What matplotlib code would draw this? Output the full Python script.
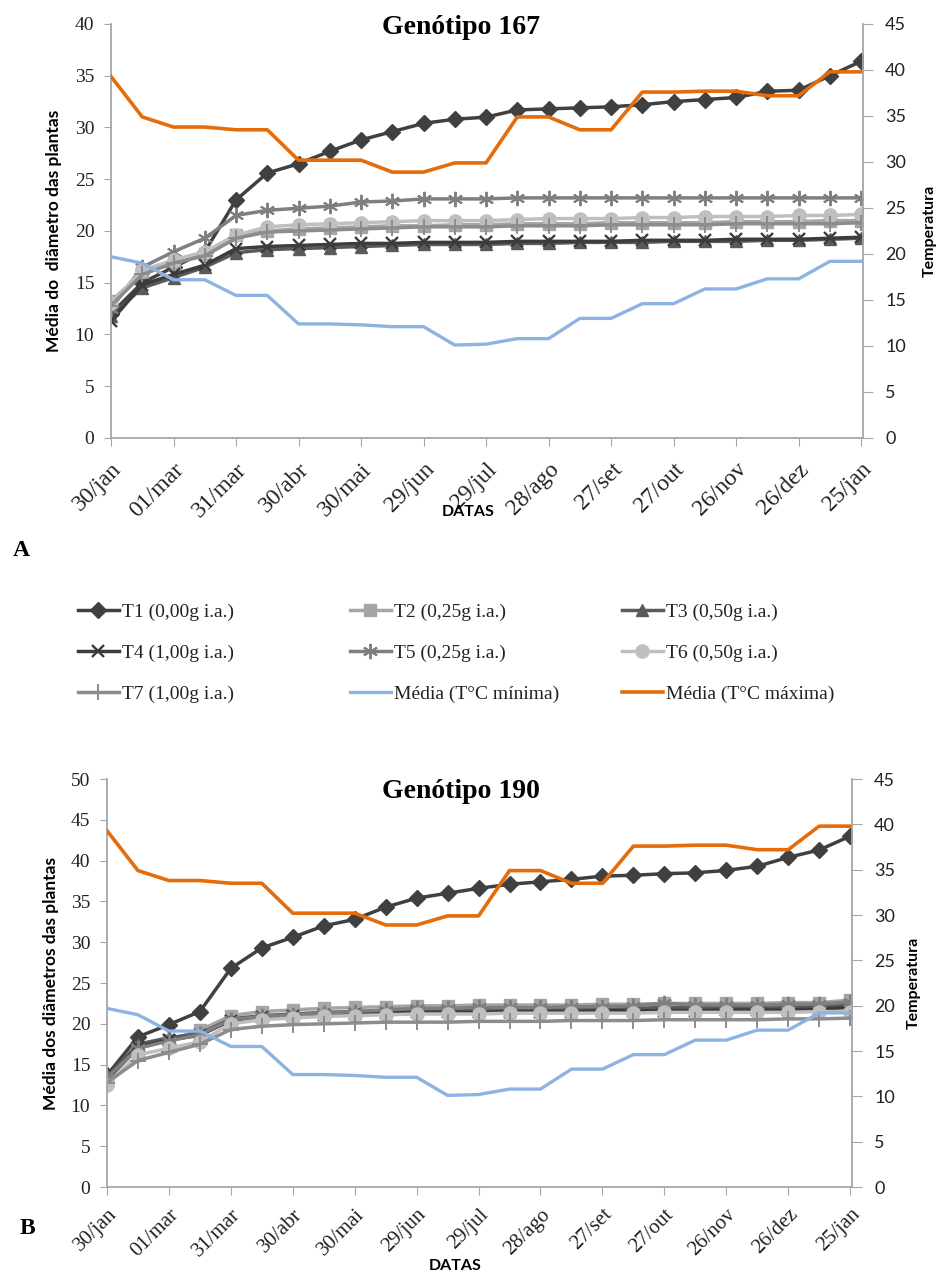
import matplotlib.pyplot as plt
import numpy as np

plt.rcParams['font.family'] = ['Liberation Serif', 'DejaVu Serif']

# dates shown on the x axis (a reading every 15 days, every other one labelled)
rotulos = ['30/jan', '01/mar', '31/mar', '30/abr', '30/mai', '29/jun', '29/jul',
           '28/ago', '27/set', '27/out', '26/nov', '26/dez', '25/jan']

# mean max / min temperature (right axis), same period for both genotypes
tmax = [39.3, 34.9, 33.8, 33.8, 33.5, 33.5, 30.2, 30.2, 30.2, 28.9, 28.9, 29.9, 29.9,
        34.9, 34.9, 33.5, 33.5, 37.6, 37.6, 37.7, 37.7, 37.2, 37.2, 39.8, 39.8]
tmin = [19.7, 19.0, 17.2, 17.2, 15.5, 15.5, 12.4, 12.4, 12.3, 12.1, 12.1, 10.1, 10.2,
        10.8, 10.8, 13.0, 13.0, 14.6, 14.6, 16.2, 16.2, 17.3, 17.3, 19.2, 19.2]

# Genotipo 167 - mean plant diameter per treatment
g167_t1 = [12.0, 15.0, 16.5, 18.0, 23.0, 25.6, 26.5, 27.7, 28.8, 29.6, 30.4, 30.8, 31.0,
           31.7, 31.8, 31.9, 32.0, 32.2, 32.5, 32.7, 32.9, 33.5, 33.6, 35.0, 36.4]
g167_t2 = [13.2, 16.0, 16.8, 17.8, 19.6, 20.0, 20.2, 20.3, 20.4, 20.5, 20.5, 20.6, 20.6,
           20.7, 20.7, 20.7, 20.8, 20.8, 20.8, 20.8, 20.9, 20.9, 20.9, 21.0, 21.0]
g167_t3 = [11.8, 14.5, 15.5, 16.5, 17.9, 18.2, 18.3, 18.4, 18.5, 18.6, 18.7, 18.7, 18.7,
           18.8, 18.8, 18.9, 18.9, 18.9, 19.0, 19.0, 19.0, 19.1, 19.1, 19.2, 19.3]
g167_t4 = [11.3, 14.8, 15.8, 16.7, 18.3, 18.5, 18.6, 18.7, 18.8, 18.8, 18.9, 18.9, 18.9,
           19.0, 19.0, 19.0, 19.0, 19.1, 19.1, 19.1, 19.2, 19.2, 19.2, 19.3, 19.4]
g167_t5 = [12.5, 16.5, 18.0, 19.3, 21.5, 22.0, 22.2, 22.4, 22.8, 22.9, 23.1, 23.1, 23.1,
           23.2, 23.2, 23.2, 23.2, 23.2, 23.2, 23.2, 23.2, 23.2, 23.2, 23.2, 23.2]
g167_t6 = [13.0, 16.2, 17.2, 18.0, 19.6, 20.4, 20.6, 20.7, 20.8, 20.9, 21.0, 21.0, 21.0,
           21.1, 21.2, 21.2, 21.2, 21.3, 21.3, 21.4, 21.4, 21.4, 21.5, 21.5, 21.6]
g167_t7 = [12.8, 15.8, 16.9, 17.6, 19.3, 19.9, 20.0, 20.1, 20.2, 20.3, 20.4, 20.4, 20.4,
           20.5, 20.5, 20.5, 20.6, 20.6, 20.6, 20.6, 20.7, 20.7, 20.7, 20.7, 20.8]

# Genotipo 190
g190_t1 = [13.7, 18.4, 19.9, 21.5, 26.8, 29.3, 30.6, 32.0, 32.8, 34.3, 35.4, 36.0, 36.6,
           37.1, 37.4, 37.7, 38.1, 38.2, 38.4, 38.5, 38.8, 39.3, 40.4, 41.3, 43.0]
g190_t2 = [13.0, 17.0, 18.0, 19.2, 21.0, 21.5, 21.7, 21.9, 22.0, 22.1, 22.2, 22.2, 22.3,
           22.3, 22.3, 22.3, 22.4, 22.4, 22.5, 22.5, 22.5, 22.5, 22.6, 22.6, 22.9]
g190_t3 = [13.5, 17.5, 18.3, 18.8, 20.6, 21.0, 21.2, 21.4, 21.5, 21.6, 21.7, 21.7, 21.8,
           21.8, 21.8, 21.9, 21.9, 21.9, 22.0, 22.0, 22.0, 22.0, 22.1, 22.1, 22.3]
g190_t4 = [13.2, 17.2, 18.0, 18.6, 20.4, 20.8, 21.0, 21.1, 21.2, 21.3, 21.4, 21.4, 21.4,
           21.5, 21.5, 21.5, 21.6, 21.6, 21.6, 21.6, 21.7, 21.7, 21.7, 21.8, 22.0]
g190_t5 = [13.4, 17.0, 17.9, 18.7, 20.5, 20.9, 21.1, 21.3, 21.5, 21.7, 21.9, 21.9, 22.0,
           22.0, 22.0, 22.1, 22.1, 22.2, 22.5, 22.3, 22.3, 22.3, 22.4, 22.4, 22.7]
g190_t6 = [12.5, 16.2, 17.0, 17.8, 20.0, 20.5, 20.7, 20.9, 21.0, 21.1, 21.2, 21.2, 21.2,
           21.3, 21.3, 21.3, 21.3, 21.3, 21.4, 21.4, 21.4, 21.4, 21.4, 21.5, 21.5]
g190_t7 = [12.8, 15.5, 16.5, 17.5, 19.3, 19.7, 19.9, 20.0, 20.1, 20.2, 20.2, 20.2, 20.3,
           20.3, 20.3, 20.4, 20.4, 20.4, 20.5, 20.5, 20.5, 20.5, 20.6, 20.6, 20.7]

tratamentos = ['T1 (0,00g i.a.)', 'T2 (0,25g i.a.)', 'T3 (0,50g i.a.)', 'T4 (1,00g i.a.)',
               'T5 (0,25g i.a.)', 'T6 (0,50g i.a.)', 'T7 (1,00g i.a.)']
nome_tmin = 'Média (T°C mínima)'
nome_tmax = 'Média (T°C máxima)'

# line/marker style of each treatment (Excel-like greys)
estilos = [
    dict(color='#404040', marker='D', ms=8.5),
    dict(color='#a5a5a5', marker='s', ms=8),
    dict(color='#5a5a5a', marker='^', ms=9),
    dict(color='#3c3c3c', marker='x', ms=9, mew=1.7),
    dict(color='#7f7f7f', marker=(6, 2, 0), ms=11, mew=1.4),
    dict(color='#bfbfbf', marker='o', ms=9.5),
    dict(color='#8c8c8c', marker='+', ms=11, mew=1.4),
]
cor_tmin = '#8db3e2'
cor_tmax = '#e46c0a'
cinza = '#a6a6a6'
SANS = ['Lato', 'DejaVu Sans']


def painel(fig, rect, series, ymax, ylabel, titulo, letra, pos_letra, pos_titulo,
           pos_ylabel, pos_templabel, pos_datas, tam_rotulo, pad_rotulo):
    ax = fig.add_axes(rect)
    x = np.arange(len(tmax))
    linhas = []
    for vals, nome, st in zip(series, tratamentos, estilos):
        ln, = ax.plot(x, vals, lw=2.5, mfc=st['color'], mec=st['color'], label=nome, **st)
        linhas.append(ln)

    ax.set_xlim(0, 24.06)
    ax.set_ylim(0, ymax)
    ax.set_yticks(np.arange(0, ymax + 1, 5))
    ax.set_xticks(x[::2])
    ax.set_xticklabels(rotulos, rotation=45, ha='right', rotation_mode='anchor',
                       fontsize=tam_rotulo)
    ax.tick_params(axis='y', labelsize=14, length=5, color=cinza, pad=7,
                   labelcolor='#222222')
    ax.tick_params(axis='x', length=6, color=cinza, pad=pad_rotulo, labelcolor='#222222')
    for s in ['top', 'right']:
        ax.spines[s].set_visible(False)
    for s in ['left', 'bottom']:
        ax.spines[s].set_color(cinza)
        ax.spines[s].set_linewidth(1.3)

    ax.set_ylabel(ylabel, fontfamily=SANS, fontweight='bold', fontsize=12.5)
    ax.yaxis.set_label_coords(*pos_ylabel)
    ax.set_xlabel('DATAS', fontfamily=SANS, fontweight='bold', fontsize=11.5)
    ax.xaxis.set_label_coords(*pos_datas)

    # temperatures on the secondary axis
    ax2 = ax.twinx()
    l_min, = ax2.plot(x, tmin, color=cor_tmin, lw=2.4, label=nome_tmin)
    l_max, = ax2.plot(x, tmax, color=cor_tmax, lw=2.6, label=nome_tmax)
    ax2.set_ylim(0, 45)
    ax2.set_yticks(np.arange(0, 46, 5))
    ax2.tick_params(axis='y', length=7, color=cinza, pad=9, labelsize=13,
                    labelcolor='#222222')
    for lab in ax2.get_yticklabels():
        lab.set_fontfamily(SANS)
    for s in ['top', 'left', 'bottom']:
        ax2.spines[s].set_visible(False)
    ax2.spines['right'].set_color(cinza)
    ax2.spines['right'].set_linewidth(1.3)
    ax2.set_ylabel('Temperatura', fontfamily=SANS, fontweight='bold', fontsize=11.5)
    ax2.yaxis.set_label_coords(*pos_templabel)

    fig.text(pos_titulo[0], pos_titulo[1], titulo, fontsize=20, fontweight='bold',
             ha='center', va='center')
    fig.text(pos_letra[0], pos_letra[1], letra, fontsize=17, fontweight='bold',
             ha='center', va='center')
    return linhas + [l_min, l_max]


fig = plt.figure(figsize=(9.38, 12.74), dpi=100)
W, H = 938, 1274


def fr(left, top, right, bottom):
    return [left / W, 1 - bottom / H, (right - left) / W, (bottom - top) / H]


handles = painel(fig, fr(111, 24, 863, 438),
                 [g167_t1, g167_t2, g167_t3, g167_t4, g167_t5, g167_t6, g167_t7],
                 40, 'Média do  diâmetro das plantas', 'Genótipo 167', 'A',
                 (21 / W, 1 - 550 / H), (461 / W, 1 - 28 / H),
                 (-0.065, 0.5), (1.079, 0.5), (0.475, -0.162), 17, 9)

painel(fig, fr(107, 779, 852, 1187),
       [g190_t1, g190_t2, g190_t3, g190_t4, g190_t5, g190_t6, g190_t7],
       50, 'Média dos diâmetros das plantas', 'Genótipo 190', 'B',
       (27 / W, 1 - 1228 / H), (461 / W, 1 - 792 / H),
       (-0.064, 0.5), (1.074, 0.5), (0.468, -0.176), 15, 7)

# shared legend, three columns placed between the panels
colunas = [[0, 3, 6], [1, 4, 7], [2, 5, 8]]
x_col = [78, 350, 622]
for idx, xc in zip(colunas, x_col):
    leg = fig.legend([handles[i] for i in idx], [handles[i].get_label() for i in idx],
                     loc='upper left', bbox_to_anchor=(xc / W, 1 - 603 / H),
                     frameon=False, fontsize=14, handlelength=2.1, handletextpad=0.15,
                     labelspacing=1.2, borderpad=0, borderaxespad=0, numpoints=1)
    for t in leg.get_texts():
        t.set_color('#222222')

fig.savefig('out.png', dpi=100)
